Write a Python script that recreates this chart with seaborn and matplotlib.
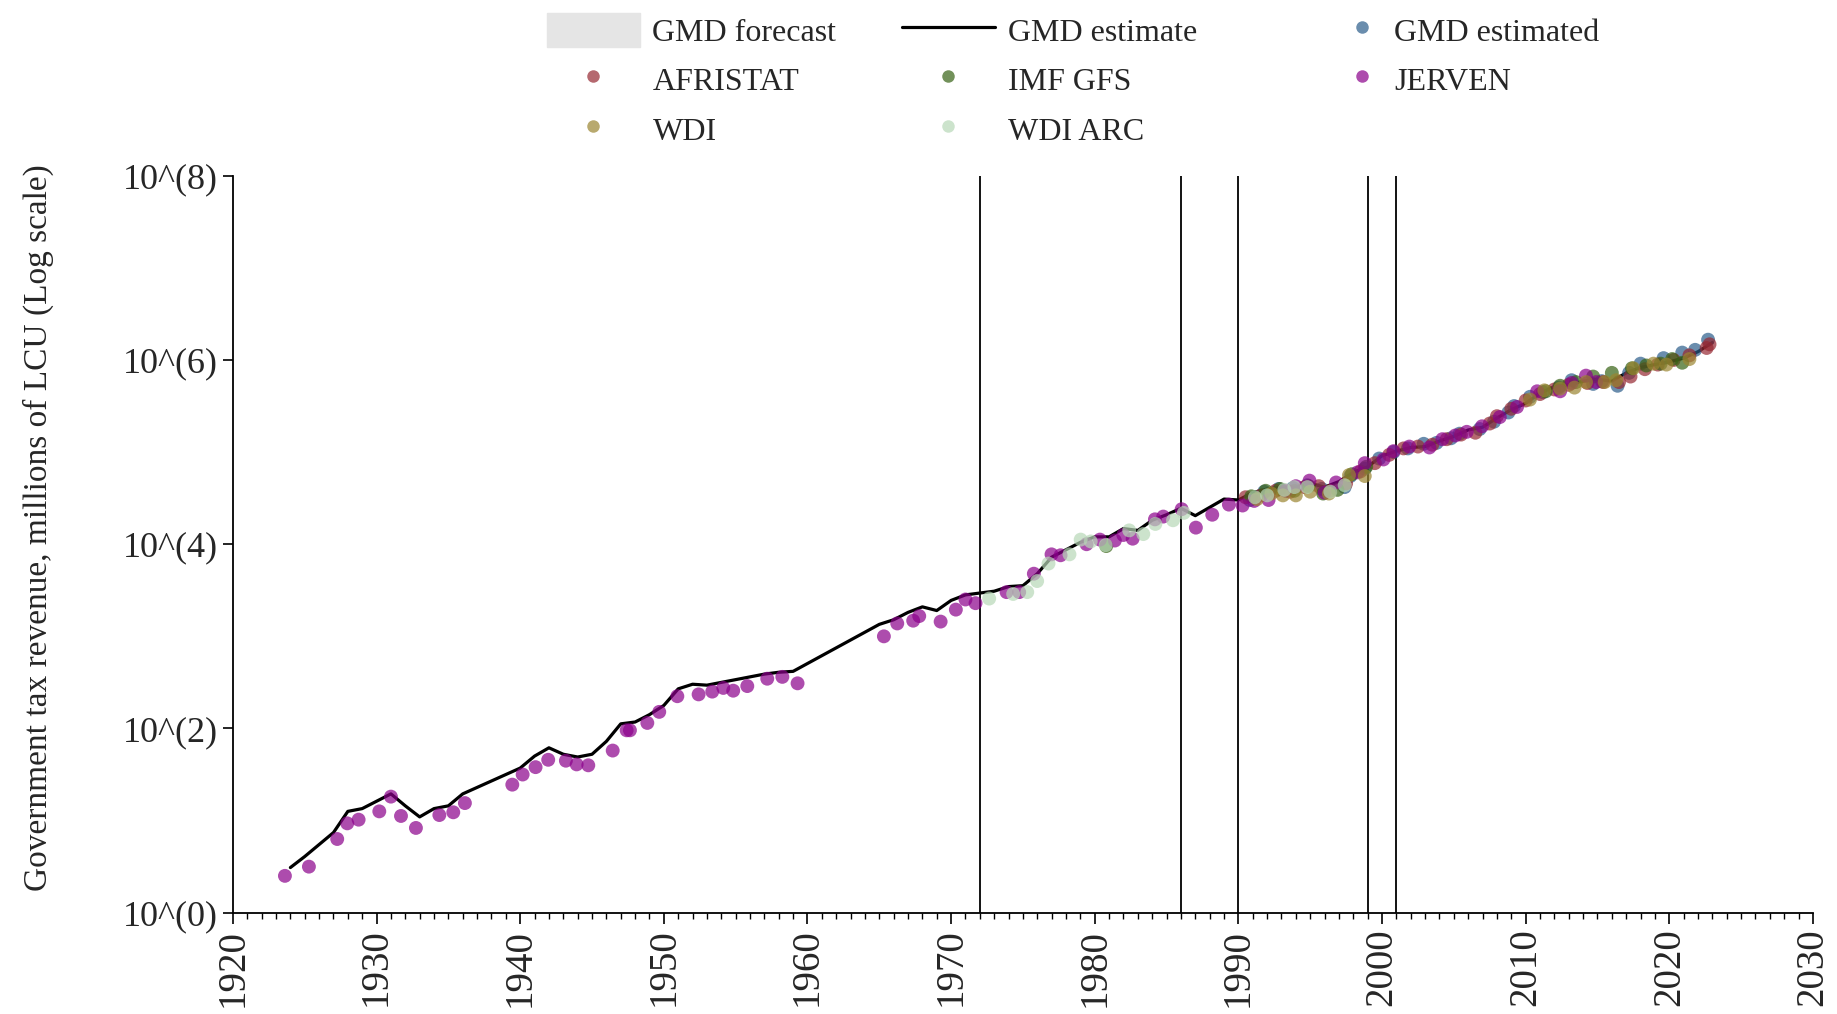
import matplotlib
matplotlib.use("Agg")
import matplotlib.pyplot as plt
from matplotlib.lines import Line2D
from matplotlib.patches import Patch
from matplotlib.ticker import FixedLocator, MultipleLocator, NullLocator
import numpy as np
import pandas as pd
import seaborn as sns

# ---------------------------------------------------------------
# data (log10 of millions of LCU)
# ---------------------------------------------------------------
gmd_years = [1924, 1925, 1926, 1927, 1928, 1929, 1930, 1931, 1932, 1933,
             1934, 1935, 1936, 1937, 1938, 1939, 1940, 1941, 1942, 1943,
             1944, 1945, 1946, 1947, 1948, 1949, 1950, 1951, 1952, 1953,
             1954, 1955, 1956, 1957, 1958, 1959, 1965, 1966, 1967, 1968,
             1969, 1970, 1971, 1972, 1973, 1974, 1975, 1976, 1977, 1978,
             1979, 1980, 1981, 1982, 1983, 1984, 1985, 1986, 1987, 1988,
             1989, 1990, 1991, 1992, 1993, 1994, 1995, 1996, 1997, 1998,
             1999, 2000, 2001, 2002, 2003, 2004, 2005, 2006, 2007, 2008,
             2009, 2010, 2011, 2012, 2013, 2014, 2015, 2016, 2017, 2018,
             2019, 2020, 2021, 2022, 2023]
gmd_log = [0.49, 0.61, 0.74, 0.87, 1.10, 1.13, 1.21, 1.29, 1.16, 1.04,
           1.13, 1.16, 1.29, 1.36, 1.43, 1.50, 1.57, 1.70, 1.79, 1.72,
           1.69, 1.72, 1.86, 2.05, 2.07, 2.15, 2.25, 2.43, 2.48, 2.47,
           2.50, 2.53, 2.56, 2.59, 2.61, 2.62, 3.13, 3.18, 3.26, 3.32,
           3.28, 3.39, 3.45, 3.47, 3.49, 3.54, 3.55, 3.68, 3.86, 3.94,
           4.02, 4.08, 4.08, 4.17, 4.15, 4.26, 4.32, 4.39, 4.31, 4.40,
           4.49, 4.48, 4.56, 4.60, 4.62, 4.62, 4.66, 4.62, 4.68, 4.78,
           4.84, 4.96, 5.01, 5.05, 5.06, 5.12, 5.17, 5.24, 5.27, 5.37,
           5.46, 5.53, 5.64, 5.71, 5.73, 5.77, 5.79, 5.77, 5.86, 5.92,
           5.95, 5.98, 6.02, 6.09, 6.19]

est_x = [1990.8, 1991.8, 1992.8, 1993.8, 1994.8, 1995.8, 1997.4, 1997.8,
         1998.8, 1999.8, 2000.8, 2001.8, 2002.9, 2003.8, 2004.8, 2005.4,
         2006.8, 2007.8, 2008.8, 2009.2, 2010.3, 2011.2, 2012.3, 2013.2,
         2014.7, 2015.3, 2016.4, 2017.2, 2018.0, 2019.6, 2020.9, 2021.8,
         2022.7]
est_log = [4.48, 4.57, 4.60, 4.61, 4.64, 4.60, 4.62, 4.74,
           4.82, 4.93, 5.00, 5.04, 5.09, 5.10, 5.15, 5.20,
           5.25, 5.33, 5.43, 5.50, 5.60, 5.65, 5.70, 5.78,
           5.74, 5.77, 5.72, 5.86, 5.96, 6.02, 6.08, 6.11,
           6.22]

afristat_x = [1990.5, 1991.6, 1992.6, 1993.6, 1994.6, 1995.6, 1996.4, 1997.5,
              1998.5, 1999.5, 2000.5, 2001.5, 2002.5, 2003.5, 2004.5, 2005.5,
              2006.5, 2007.5, 2008.0, 2009.0, 2010.0, 2011.0, 2012.0, 2013.0,
              2014.3, 2015.4, 2016.5, 2017.3, 2018.3, 2019.2, 2020.3, 2021.4,
              2022.6, 2022.8]
afristat_log = [4.51, 4.53, 4.58, 4.57, 4.62, 4.63, 4.58, 4.66,
                4.79, 4.88, 4.97, 5.04, 5.06, 5.08, 5.14, 5.19,
                5.21, 5.31, 5.39, 5.47, 5.56, 5.63, 5.68, 5.73,
                5.75, 5.76, 5.76, 5.82, 5.90, 5.95, 6.00, 6.05,
                6.13, 6.17]

imf_x = [1980.8, 1990.9, 1991.9, 1992.9, 1993.9, 1994.9, 1995.9, 1996.9,
         1997.9, 1998.9, 2011.4, 2012.4, 2013.5, 2014.7, 2016.0, 2017.4,
         2018.4, 2019.4, 2020.2, 2020.9]
imf_log = [3.98, 4.52, 4.58, 4.60, 4.58, 4.63, 4.55, 4.59,
           4.76, 4.84, 5.66, 5.72, 5.76, 5.82, 5.86, 5.91,
           5.94, 5.96, 6.01, 5.97]

jerven_x = [1923.62, 1925.29, 1927.26, 1927.96, 1928.75, 1930.19, 1931.00, 1931.70,
            1932.74, 1934.37, 1935.34, 1936.15, 1939.45, 1940.17, 1941.07, 1941.95,
            1943.18, 1943.93, 1944.74, 1946.44, 1947.41, 1947.64, 1948.85, 1949.68,
            1950.94, 1952.42, 1953.37, 1954.14, 1954.83, 1955.81, 1957.20, 1958.25,
            1959.31, 1965.32, 1966.25, 1967.36, 1967.78, 1969.27, 1970.33, 1971.00,
            1971.70, 1973.86, 1974.74, 1975.76, 1976.99, 1977.62, 1979.43, 1980.36,
            1981.40, 1981.99, 1982.64, 1984.19, 1984.77, 1986.05, 1987.04, 1988.18,
            1989.34, 1990.29, 1991.10, 1992.10, 1993.30, 1994.00, 1994.95, 1996.00,
            1996.80, 1998.30, 1998.80, 2000.10, 2000.80, 2001.90, 2003.30, 2004.20,
            2005.10, 2005.90, 2006.96, 2008.20, 2009.40, 2010.80, 2012.40, 2013.20,
            2014.20, 2014.90]
jerven_log = [0.40, 0.50, 0.80, 0.97, 1.01, 1.10, 1.26, 1.05,
              0.92, 1.06, 1.09, 1.19, 1.39, 1.50, 1.58, 1.66,
              1.65, 1.61, 1.60, 1.76, 1.98, 1.98, 2.06, 2.18,
              2.35, 2.37, 2.40, 2.44, 2.41, 2.46, 2.54, 2.56,
              2.49, 3.00, 3.14, 3.17, 3.22, 3.16, 3.29, 3.40,
              3.36, 3.48, 3.48, 3.68, 3.89, 3.88, 4.00, 4.05,
              4.04, 4.10, 4.06, 4.27, 4.30, 4.38, 4.18, 4.32,
              4.43, 4.42, 4.47, 4.48, 4.58, 4.63, 4.69, 4.56,
              4.67, 4.78, 4.88, 4.92, 5.01, 5.06, 5.05, 5.14,
              5.18, 5.22, 5.28, 5.38, 5.49, 5.66, 5.66, 5.75,
              5.83, 5.76]

wdi_x = [1991.3, 1992.3, 1993.1, 1994.0, 1995.0, 1996.3, 1997.7, 1998.8,
         2010.3, 2011.3, 2012.4, 2013.4, 2014.2, 2015.5, 2016.3, 2017.5,
         2018.9, 2019.8, 2021.4]
wdi_log = [4.49, 4.55, 4.53, 4.53, 4.57, 4.55, 4.75, 4.74,
           5.57, 5.67, 5.69, 5.70, 5.76, 5.76, 5.78, 5.91,
           5.96, 5.95, 6.01]

wdiarc_x = [1972.65, 1974.32, 1975.30, 1975.99, 1976.78, 1978.24, 1979.02, 1979.72,
            1980.76, 1982.40, 1983.38, 1984.22, 1985.45, 1986.20, 1991.15, 1992.00,
            1993.20, 1993.90, 1994.80, 1996.40, 1997.40]
wdiarc_log = [3.41, 3.46, 3.48, 3.60, 3.79, 3.89, 4.05, 4.03,
              3.99, 4.15, 4.11, 4.22, 4.26, 4.34, 4.51, 4.53,
              4.59, 4.62, 4.62, 4.57, 4.64]

break_years = [1972, 1986, 1990, 1999, 2001]

SOURCES = ["GMD estimated", "AFRISTAT", "IMF GFS", "JERVEN", "WDI", "WDI ARC"]
PALETTE = {
    "GMD estimated": "#2b5d8a",
    "AFRISTAT": "#962832",
    "IMF GFS": "#376214",
    "JERVEN": "#8b008b",
    "WDI": "#9b8530",
    "WDI ARC": "#b7d8b7",
}
YTICK_LABELS = ["10^(0)", "10^(2)", "10^(4)", "10^(6)", "10^(8)"]


def build_points() -> pd.DataFrame:
    parts = [
        ("GMD estimated", est_x, est_log),
        ("AFRISTAT", afristat_x, afristat_log),
        ("IMF GFS", imf_x, imf_log),
        ("JERVEN", jerven_x, jerven_log),
        ("WDI", wdi_x, wdi_log),
        ("WDI ARC", wdiarc_x, wdiarc_log),
    ]
    frames = [pd.DataFrame({"year": x, "value": 10 ** np.array(v), "source": name})
              for name, x, v in parts]
    return pd.concat(frames, ignore_index=True)


def dot(color):
    return Line2D([], [], ls="none", marker="o", ms=9, color=color, alpha=0.7,
                  markeredgewidth=0)


sns.set_theme(style="ticks")
plt.rcParams["font.family"] = ["Liberation Serif", "DejaVu Serif"]

fig = plt.figure(figsize=(18.37, 10.14), dpi=100)
ax = fig.add_axes([0.1268, 0.0999, 0.8601, 0.7268])

line_df = pd.DataFrame({"year": gmd_years, "value": 10 ** np.array(gmd_log)})
points = build_points()

for yr in break_years:
    ax.axvline(yr, color="black", lw=1.3, zorder=1)

sns.lineplot(data=line_df, x="year", y="value", color="black", lw=2.3,
             ax=ax, zorder=2)
sns.scatterplot(data=points, x="year", y="value", hue="source",
                hue_order=SOURCES, palette=PALETTE, s=100, alpha=0.7,
                linewidth=0, legend=False, ax=ax, zorder=3)

ax.set_yscale("log")
ax.set_ylim(1, 1e8)
ax.yaxis.set_major_locator(FixedLocator([1, 1e2, 1e4, 1e6, 1e8]))
ax.yaxis.set_minor_locator(NullLocator())
ax.set_yticklabels(YTICK_LABELS)
ax.set_xlim(1920, 2030)
ax.xaxis.set_major_locator(MultipleLocator(10))
ax.xaxis.set_minor_locator(MultipleLocator(1))
ax.tick_params(axis="x", which="major", labelsize=28, length=8, width=1.2,
               rotation=90, color="black")
ax.tick_params(axis="x", which="minor", length=4, width=1.0, color="black")
ax.tick_params(axis="y", which="major", labelsize=26, length=7, width=1.2,
               color="black")
ax.set_xlabel("")
ax.set_ylabel("")
sns.despine(ax=ax)
for side in ("left", "bottom"):
    ax.spines[side].set_color("black")
    ax.spines[side].set_linewidth(1.3)

fig.text(0.021, 0.48, "Government tax revenue, millions of LCU (Log scale)",
         rotation=90, ha="center", va="center", fontsize=24)

# legend: three columns placed separately (handle widths differ per column)
legend_cols = [
    (0.2978, 2.9, [Patch(facecolor="#e5e5e5", edgecolor="#e5e5e5"),
                   dot(PALETTE["AFRISTAT"]), dot(PALETTE["WDI"])],
     ["GMD forecast", "AFRISTAT", "WDI"]),
    (0.4911, 2.9, [Line2D([], [], color="black", lw=2.3),
                   dot(PALETTE["IMF GFS"]), dot(PALETTE["WDI ARC"])],
     ["GMD estimate", "IMF GFS", "WDI ARC"]),
    (0.7310, 1.2, [dot(PALETTE["GMD estimated"]), dot(PALETTE["JERVEN"])],
     ["GMD estimated", "JERVEN"]),
]
for x0, hlen, hs, labs in legend_cols:
    leg = fig.legend(hs, labs, loc="upper left", bbox_to_anchor=(x0, 0.9875),
                     frameon=False, fontsize=23, handlelength=hlen,
                     handleheight=1.3, handletextpad=0.4, labelspacing=0.45,
                     borderpad=0, borderaxespad=0)

fig.savefig("out.png", dpi=100)
